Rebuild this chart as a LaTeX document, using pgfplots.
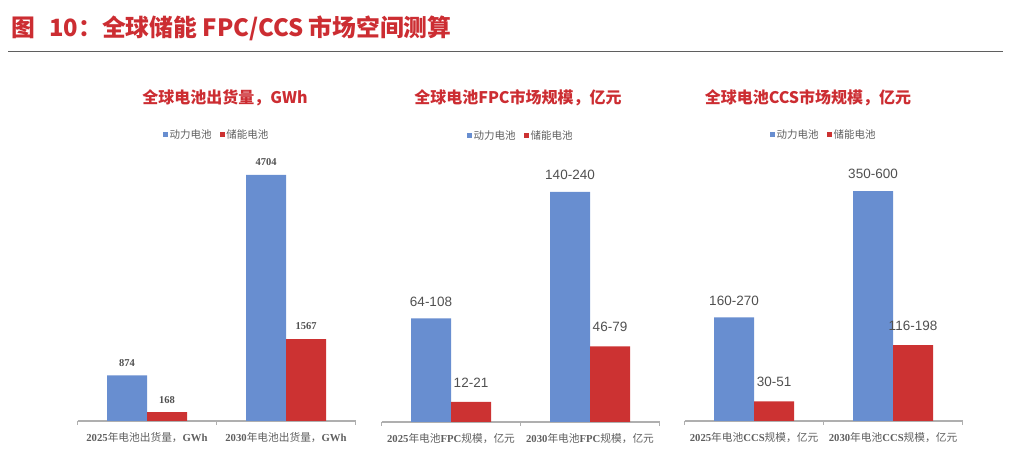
\documentclass[border=0pt]{standalone}
\usepackage{pgfplots}
\pgfplotsset{compat=1.18}
\usepackage{fontspec}
\setmainfont{Liberation Serif}
\newfontfamily\cjk{Noto Sans CJK SC}
\newfontfamily\lsans{Liberation Sans}
\definecolor{cblue}{RGB}{104,142,208}
\definecolor{cred}{RGB}{204,50,50}
\definecolor{ttl}{RGB}{204,45,50}
\definecolor{axgray}{RGB}{175,175,175}
\definecolor{lblgray}{RGB}{95,95,95}
\definecolor{numgray}{RGB}{80,80,80}
\definecolor{rulegray}{RGB}{95,95,95}

\pgfplotsset{
 panel/.style={
  width=278bp, height=260bp, scale only axis,
  xmin=-0.5, xmax=1.5, ymin=0,
  axis y line=none, axis x line*=bottom,
  x axis line style={axgray, line width=1.2bp, -},
  xtick={-0.5,0.5,1.5}, xticklabels={,,},
  major tick length=4bp, tick align=outside,
  xtick style={axgray, line width=1bp},
  extra x ticks={0,1},
  extra x tick style={major tick length=0pt, tick style={draw=none},
     tick label style={font=\fontsize{10.7bp}{12bp}\selectfont, text=lblgray, yshift=-8bp}},
  ybar, bar width=40bp,
  clip=false,
  legend style={draw=none, fill=none, at={(0.5,1.1)}, anchor=center, legend columns=2,
     font=\cjk\fontsize{10.5bp}{12bp}\selectfont, text=lblgray,
     /tikz/every even column/.append style={column sep=6bp}},
  legend image code/.code={\path[#1,draw=none] (0bp,-2.5bp) rectangle (5bp,2.5bp);},
 },
 bl/.style={fill=cblue, draw=none, bar shift=-20bp},
 rd/.style={fill=cred, draw=none, bar shift=20bp},
}

\begin{document}
\begin{tikzpicture}[x=1bp,y=1bp]
\useasboundingbox (0,0) rectangle (1016,461);

% main title
\node[anchor=west, inner sep=0pt, text=ttl, font=\cjk\bfseries\fontsize{23.8bp}{26bp}\selectfont] at (11,433) {图\hspace{0.6em}10：全球储能 FPC/CCS 市场空间测算};
\draw[rulegray, line width=1.5bp] (8,409.5) -- (1003,409.5);

% panel titles
\node[text=ttl, font=\cjk\bfseries\fontsize{16bp}{18bp}\selectfont] at (225,363) {全球电池出货量，GWh};
\node[text=ttl, font=\cjk\bfseries\fontsize{16bp}{18bp}\selectfont] at (518,363) {全球电池FPC市场规模，亿元};
\node[text=ttl, font=\cjk\bfseries\fontsize{16bp}{18bp}\selectfont] at (808,363) {全球电池CCS市场规模，亿元};

% panel 1
\begin{axis}[panel, at={(77.5bp,40bp)}, anchor=south west, ymax=4971.7,
  extra x tick labels={{\textbf{2025}{\cjk 年电池出货量，}\textbf{GWh}},{\textbf{2030}{\cjk 年电池出货量，}\textbf{GWh}}},
  nodes near coords, /pgf/number format/1000 sep={}, /pgf/number format/assume math mode=true,
  every node near coord/.append style={anchor=center, yshift=12.5bp, font=\bfseries\fontsize{10.5bp}{12bp}\selectfont, text=numgray}]
\addplot[bl] coordinates {(0,874) (1,4704)};
\addplot[rd] coordinates {(0,168) (1,1567)};
\legend{动力电池,储能电池}
\end{axis}

% panel 2
\begin{axis}[panel, at={(381.5bp,39bp)}, anchor=south west, ymax=271.3,
  extra x tick labels={{\textbf{2025}{\cjk 年电池}\textbf{FPC}{\cjk 规模，亿元}},{\textbf{2030}{\cjk 年电池}\textbf{FPC}{\cjk 规模，亿元}}},
  point meta=explicit symbolic, nodes near coords,
  every node near coord/.append style={anchor=center, font=\lsans\fontsize{13.5bp}{15bp}\selectfont, text=numgray}]
\addplot[bl, every node near coord/.append style={yshift=17bp}] table[x=x,y=y,meta=l] {
x y l
0 108 64-108
1 240 140-240
};
\addplot[rd, every node near coord/.append style={yshift=19.5bp}] table[x=x,y=y,meta=l] {
x y l
0 21 12-21
1 79 46-79
};
\legend{动力电池,储能电池}
\end{axis}

% panel 3
\begin{axis}[panel, at={(684.5bp,40bp)}, anchor=south west, ymax=678.3,
  extra x tick labels={{\textbf{2025}{\cjk 年电池}\textbf{CCS}{\cjk 规模，亿元}},{\textbf{2030}{\cjk 年电池}\textbf{CCS}{\cjk 规模，亿元}}},
  point meta=explicit symbolic, nodes near coords,
  every node near coord/.append style={anchor=center, font=\lsans\fontsize{13.5bp}{15bp}\selectfont, text=numgray}]
\addplot[bl, every node near coord/.append style={yshift=17bp}] table[x=x,y=y,meta=l] {
x y l
0 270 160-270
1 600 350-600
};
\addplot[rd, every node near coord/.append style={yshift=19.5bp}] table[x=x,y=y,meta=l] {
x y l
0 51 30-51
1 198 116-198
};
\legend{动力电池,储能电池}
\end{axis}
\end{tikzpicture}
\end{document}
